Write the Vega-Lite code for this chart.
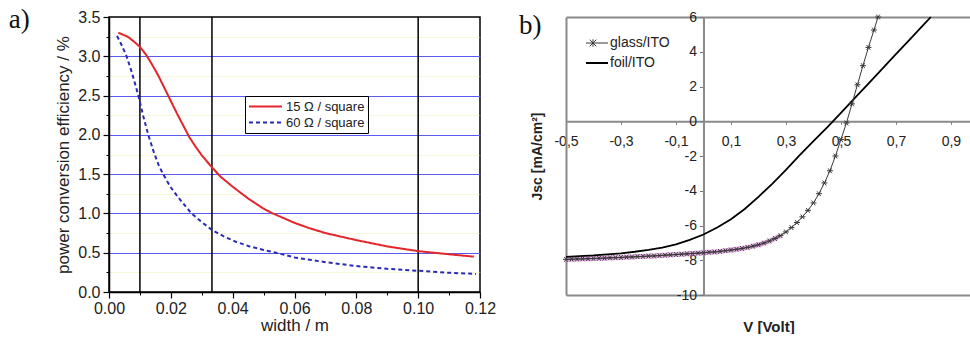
{
  "$schema": "https://vega.github.io/schema/vega-lite/v6.json",
  "background": "white",
  "padding": {"left": 8, "top": 5, "right": 0, "bottom": 0},
  "spacing": 21,
  "resolve": {"scale": {"color": "independent", "strokeDash": "independent"}, "legend": {"color": "independent", "strokeDash": "independent"}},
  "config": {
    "font": "Liberation Sans",
    "axis": {"labelFont": "Liberation Sans", "titleFont": "Liberation Sans", "labelColor": "#222", "titleColor": "#222"},
    "legend": {"labelFont": "Liberation Sans"}
  },
  "datasets": {
    "markers": [{"w": 0.01}, {"w": 0.0333}, {"w": 0.1}],
    "eff": [
      {"w": 0.003, "eff": 3.30, "sheet": "15 Ω / square"},
      {"w": 0.006, "eff": 3.25, "sheet": "15 Ω / square"},
      {"w": 0.008, "eff": 3.19, "sheet": "15 Ω / square"},
      {"w": 0.010, "eff": 3.12, "sheet": "15 Ω / square"},
      {"w": 0.012, "eff": 3.02, "sheet": "15 Ω / square"},
      {"w": 0.014, "eff": 2.89, "sheet": "15 Ω / square"},
      {"w": 0.016, "eff": 2.75, "sheet": "15 Ω / square"},
      {"w": 0.018, "eff": 2.59, "sheet": "15 Ω / square"},
      {"w": 0.020, "eff": 2.43, "sheet": "15 Ω / square"},
      {"w": 0.022, "eff": 2.27, "sheet": "15 Ω / square"},
      {"w": 0.024, "eff": 2.12, "sheet": "15 Ω / square"},
      {"w": 0.026, "eff": 1.97, "sheet": "15 Ω / square"},
      {"w": 0.028, "eff": 1.85, "sheet": "15 Ω / square"},
      {"w": 0.030, "eff": 1.74, "sheet": "15 Ω / square"},
      {"w": 0.033, "eff": 1.60, "sheet": "15 Ω / square"},
      {"w": 0.036, "eff": 1.47, "sheet": "15 Ω / square"},
      {"w": 0.040, "eff": 1.34, "sheet": "15 Ω / square"},
      {"w": 0.045, "eff": 1.19, "sheet": "15 Ω / square"},
      {"w": 0.050, "eff": 1.06, "sheet": "15 Ω / square"},
      {"w": 0.053, "eff": 1.00, "sheet": "15 Ω / square"},
      {"w": 0.060, "eff": 0.88, "sheet": "15 Ω / square"},
      {"w": 0.065, "eff": 0.81, "sheet": "15 Ω / square"},
      {"w": 0.070, "eff": 0.75, "sheet": "15 Ω / square"},
      {"w": 0.080, "eff": 0.66, "sheet": "15 Ω / square"},
      {"w": 0.090, "eff": 0.58, "sheet": "15 Ω / square"},
      {"w": 0.100, "eff": 0.52, "sheet": "15 Ω / square"},
      {"w": 0.110, "eff": 0.48, "sheet": "15 Ω / square"},
      {"w": 0.118, "eff": 0.45, "sheet": "15 Ω / square"},
      {"w": 0.0026, "eff": 3.26, "sheet": "60 Ω / square"},
      {"w": 0.004, "eff": 3.15, "sheet": "60 Ω / square"},
      {"w": 0.0057, "eff": 3.00, "sheet": "60 Ω / square"},
      {"w": 0.0075, "eff": 2.78, "sheet": "60 Ω / square"},
      {"w": 0.0095, "eff": 2.50, "sheet": "60 Ω / square"},
      {"w": 0.011, "eff": 2.25, "sheet": "60 Ω / square"},
      {"w": 0.0127, "eff": 2.00, "sheet": "60 Ω / square"},
      {"w": 0.0145, "eff": 1.78, "sheet": "60 Ω / square"},
      {"w": 0.016, "eff": 1.62, "sheet": "60 Ω / square"},
      {"w": 0.0175, "eff": 1.50, "sheet": "60 Ω / square"},
      {"w": 0.020, "eff": 1.33, "sheet": "60 Ω / square"},
      {"w": 0.0225, "eff": 1.20, "sheet": "60 Ω / square"},
      {"w": 0.025, "eff": 1.08, "sheet": "60 Ω / square"},
      {"w": 0.0267, "eff": 1.00, "sheet": "60 Ω / square"},
      {"w": 0.030, "eff": 0.89, "sheet": "60 Ω / square"},
      {"w": 0.0333, "eff": 0.79, "sheet": "60 Ω / square"},
      {"w": 0.037, "eff": 0.71, "sheet": "60 Ω / square"},
      {"w": 0.041, "eff": 0.64, "sheet": "60 Ω / square"},
      {"w": 0.0455, "eff": 0.58, "sheet": "60 Ω / square"},
      {"w": 0.050, "eff": 0.535, "sheet": "60 Ω / square"},
      {"w": 0.054, "eff": 0.50, "sheet": "60 Ω / square"},
      {"w": 0.060, "eff": 0.44, "sheet": "60 Ω / square"},
      {"w": 0.070, "eff": 0.38, "sheet": "60 Ω / square"},
      {"w": 0.080, "eff": 0.33, "sheet": "60 Ω / square"},
      {"w": 0.090, "eff": 0.295, "sheet": "60 Ω / square"},
      {"w": 0.100, "eff": 0.27, "sheet": "60 Ω / square"},
      {"w": 0.110, "eff": 0.245, "sheet": "60 Ω / square"},
      {"w": 0.1187, "eff": 0.23, "sheet": "60 Ω / square"}
    ],
    "glass": [
      {"V": -0.50, "J": -7.95, "series": "glass/ITO"},
      {"V": -0.48, "J": -7.94, "series": "glass/ITO"},
      {"V": -0.46, "J": -7.93, "series": "glass/ITO"},
      {"V": -0.44, "J": -7.92, "series": "glass/ITO"},
      {"V": -0.42, "J": -7.91, "series": "glass/ITO"},
      {"V": -0.40, "J": -7.90, "series": "glass/ITO"},
      {"V": -0.38, "J": -7.89, "series": "glass/ITO"},
      {"V": -0.36, "J": -7.88, "series": "glass/ITO"},
      {"V": -0.34, "J": -7.86, "series": "glass/ITO"},
      {"V": -0.32, "J": -7.85, "series": "glass/ITO"},
      {"V": -0.30, "J": -7.84, "series": "glass/ITO"},
      {"V": -0.28, "J": -7.82, "series": "glass/ITO"},
      {"V": -0.26, "J": -7.81, "series": "glass/ITO"},
      {"V": -0.24, "J": -7.79, "series": "glass/ITO"},
      {"V": -0.22, "J": -7.78, "series": "glass/ITO"},
      {"V": -0.20, "J": -7.76, "series": "glass/ITO"},
      {"V": -0.18, "J": -7.75, "series": "glass/ITO"},
      {"V": -0.16, "J": -7.73, "series": "glass/ITO"},
      {"V": -0.14, "J": -7.71, "series": "glass/ITO"},
      {"V": -0.12, "J": -7.69, "series": "glass/ITO"},
      {"V": -0.10, "J": -7.67, "series": "glass/ITO"},
      {"V": -0.08, "J": -7.65, "series": "glass/ITO"},
      {"V": -0.06, "J": -7.63, "series": "glass/ITO"},
      {"V": -0.04, "J": -7.61, "series": "glass/ITO"},
      {"V": -0.02, "J": -7.59, "series": "glass/ITO"},
      {"V": 0.00, "J": -7.57, "series": "glass/ITO"},
      {"V": 0.02, "J": -7.54, "series": "glass/ITO"},
      {"V": 0.04, "J": -7.52, "series": "glass/ITO"},
      {"V": 0.06, "J": -7.49, "series": "glass/ITO"},
      {"V": 0.08, "J": -7.45, "series": "glass/ITO"},
      {"V": 0.10, "J": -7.41, "series": "glass/ITO"},
      {"V": 0.12, "J": -7.37, "series": "glass/ITO"},
      {"V": 0.14, "J": -7.32, "series": "glass/ITO"},
      {"V": 0.16, "J": -7.26, "series": "glass/ITO"},
      {"V": 0.18, "J": -7.19, "series": "glass/ITO"},
      {"V": 0.20, "J": -7.11, "series": "glass/ITO"},
      {"V": 0.22, "J": -7.01, "series": "glass/ITO"},
      {"V": 0.24, "J": -6.89, "series": "glass/ITO"},
      {"V": 0.26, "J": -6.75, "series": "glass/ITO"},
      {"V": 0.28, "J": -6.58, "series": "glass/ITO"},
      {"V": 0.30, "J": -6.37, "series": "glass/ITO"},
      {"V": 0.32, "J": -6.12, "series": "glass/ITO"},
      {"V": 0.34, "J": -5.83, "series": "glass/ITO"},
      {"V": 0.36, "J": -5.50, "series": "glass/ITO"},
      {"V": 0.38, "J": -5.13, "series": "glass/ITO"},
      {"V": 0.40, "J": -4.70, "series": "glass/ITO"},
      {"V": 0.42, "J": -4.17, "series": "glass/ITO"},
      {"V": 0.44, "J": -3.55, "series": "glass/ITO"},
      {"V": 0.46, "J": -2.85, "series": "glass/ITO"},
      {"V": 0.48, "J": -2.00, "series": "glass/ITO"},
      {"V": 0.50, "J": -1.05, "series": "glass/ITO"},
      {"V": 0.52, "J": -0.10, "series": "glass/ITO"},
      {"V": 0.54, "J": 1.00, "series": "glass/ITO"},
      {"V": 0.56, "J": 2.10, "series": "glass/ITO"},
      {"V": 0.58, "J": 3.20, "series": "glass/ITO"},
      {"V": 0.60, "J": 4.25, "series": "glass/ITO"},
      {"V": 0.62, "J": 5.25, "series": "glass/ITO"},
      {"V": 0.635, "J": 6.00, "series": "glass/ITO"}
    ],
    "foil": [
      {"V": -0.50, "J": -7.80, "series": "foil/ITO"},
      {"V": -0.45, "J": -7.76, "series": "foil/ITO"},
      {"V": -0.40, "J": -7.72, "series": "foil/ITO"},
      {"V": -0.35, "J": -7.66, "series": "foil/ITO"},
      {"V": -0.30, "J": -7.60, "series": "foil/ITO"},
      {"V": -0.25, "J": -7.51, "series": "foil/ITO"},
      {"V": -0.20, "J": -7.40, "series": "foil/ITO"},
      {"V": -0.15, "J": -7.27, "series": "foil/ITO"},
      {"V": -0.10, "J": -7.08, "series": "foil/ITO"},
      {"V": -0.05, "J": -6.83, "series": "foil/ITO"},
      {"V": 0.00, "J": -6.52, "series": "foil/ITO"},
      {"V": 0.05, "J": -6.12, "series": "foil/ITO"},
      {"V": 0.10, "J": -5.64, "series": "foil/ITO"},
      {"V": 0.15, "J": -5.05, "series": "foil/ITO"},
      {"V": 0.20, "J": -4.35, "series": "foil/ITO"},
      {"V": 0.25, "J": -3.60, "series": "foil/ITO"},
      {"V": 0.30, "J": -2.80, "series": "foil/ITO"},
      {"V": 0.35, "J": -1.95, "series": "foil/ITO"},
      {"V": 0.40, "J": -1.15, "series": "foil/ITO"},
      {"V": 0.45, "J": -0.35, "series": "foil/ITO"},
      {"V": 0.50, "J": 0.48, "series": "foil/ITO"},
      {"V": 0.55, "J": 1.33, "series": "foil/ITO"},
      {"V": 0.60, "J": 2.17, "series": "foil/ITO"},
      {"V": 0.65, "J": 3.02, "series": "foil/ITO"},
      {"V": 0.70, "J": 3.86, "series": "foil/ITO"},
      {"V": 0.75, "J": 4.70, "series": "foil/ITO"},
      {"V": 0.80, "J": 5.55, "series": "foil/ITO"},
      {"V": 0.827, "J": 6.00, "series": "foil/ITO"}
    ]
  },
  "hconcat": [
    {
      "width": 371,
      "height": 275,
      "title": {"text": "a)", "orient": "left", "anchor": "end", "angle": 0, "align": "right", "baseline": "top", "fontSize": 27, "fontWeight": "normal", "font": "Liberation Serif", "color": "#111", "offset": 4, "dy": -2},
      "view": {"stroke": "#000", "strokeWidth": 1.5},
      "resolve": {"axis": {"x": "independent", "y": "independent"}},
      "layer": [
        {
          "data": {"name": "markers"},
          "mark": {"type": "rule", "color": "#000", "strokeWidth": 1.5},
          "encoding": {
            "x": {"field": "w", "type": "quantitative", "scale": {"domain": [0, 0.12], "nice": false, "zero": false},
              "axis": {"orient": "bottom", "values": [0.01, 0.03, 0.05, 0.07, 0.09, 0.11], "labels": false, "domain": false, "ticks": true, "tickSize": 3, "tickColor": "#000", "grid": false, "title": null}},
            "y": {"datum": 0, "type": "quantitative", "scale": {"domain": [0, 3.5], "nice": false},
              "axis": {"orient": "left", "values": [0.25, 0.75, 1.25, 1.75, 2.25, 2.75, 3.25], "labels": false, "domain": false, "ticks": true, "tickSize": 3, "tickColor": "#000", "grid": true, "gridColor": "#eee8a0", "gridOpacity": 0.4, "title": null}},
            "y2": {"datum": 3.5}
          }
        },
        {
          "data": {"name": "eff"},
          "mark": {"type": "line", "strokeWidth": 2},
          "encoding": {
            "x": {"field": "w", "type": "quantitative", "scale": {"domain": [0, 0.12], "nice": false, "zero": false},
              "axis": {"orient": "bottom", "values": [0, 0.02, 0.04, 0.06, 0.08, 0.1, 0.12], "format": ".2f", "labelFlush": false, "labelFontSize": 16, "labelPadding": 2, "tickSize": 6, "tickColor": "#000", "tickWidth": 1.2, "domainColor": "#000", "domainWidth": 1.5, "grid": false, "title": "width / m", "titleFontSize": 17, "titleFontWeight": "normal", "titlePadding": 1}},
            "y": {"field": "eff", "type": "quantitative", "scale": {"domain": [0, 3.5], "nice": false},
              "axis": {"orient": "left", "values": [0, 0.5, 1, 1.5, 2, 2.5, 3, 3.5], "format": ".1f", "labelFontSize": 16, "labelPadding": 3, "tickSize": 6, "tickColor": "#000", "tickWidth": 1.2, "domainColor": "#000", "domainWidth": 1.5, "grid": true, "gridColor": "#5a5af2", "gridWidth": 1.2, "gridOpacity": {"condition": {"test": "datum.value === 0 || datum.value === 3.5", "value": 0}, "value": 1}, "title": "power conversion efficiency / %", "titleFontSize": 17, "titleFontWeight": "normal", "titlePadding": 5}},
            "color": {"field": "sheet", "type": "nominal", "scale": {"domain": ["15 Ω / square", "60 Ω / square"], "range": ["#e3262b", "#2a2ab8"]},
              "legend": {"orient": "none", "legendX": 136, "legendY": 79, "title": null, "strokeColor": "#000", "fillColor": "white", "padding": 3, "labelFontSize": 13, "labelColor": "#222", "symbolType": "stroke", "symbolSize": 1089, "symbolStrokeWidth": 2, "clipHeight": 15, "rowPadding": 1, "labelOffset": 3}},
            "strokeDash": {"field": "sheet", "type": "nominal", "scale": {"domain": ["15 Ω / square", "60 Ω / square"], "range": [[1, 0], [4, 3]]},
              "legend": {"orient": "none", "legendX": 136, "legendY": 79, "title": null, "strokeColor": "#000", "fillColor": "white", "padding": 3, "labelFontSize": 13, "labelColor": "#222", "symbolType": "stroke", "symbolSize": 1089, "symbolStrokeWidth": 2, "clipHeight": 15, "rowPadding": 1, "labelOffset": 3}}
          }
        }
      ]
    },
    {
      "width": 405,
      "height": 278,
      "view": {"stroke": null},
      "resolve": {"axis": {"x": "independent", "y": "independent"}},
      "layer": [
        {
          "data": {"name": "glass"},
          "transform": [{"filter": "datum.V <= 0.28"}],
          "mark": {"type": "line", "color": "#d46ad4", "strokeWidth": 5, "opacity": 0.55},
          "encoding": {
            "x": {"field": "V", "type": "quantitative", "scale": {"domain": [-0.5, 0.973], "nice": false, "zero": false},
              "axis": {"orient": "top", "labels": false, "ticks": false, "grid": false, "domain": true, "domainColor": "#8a8a8a", "domainWidth": 2, "title": null}},
            "y": {"field": "J", "type": "quantitative", "scale": {"domain": [-10, 6], "nice": false},
              "axis": {"orient": "left", "labels": false, "ticks": false, "grid": false, "domain": true, "domainColor": "#8a8a8a", "domainWidth": 2, "title": "Jsc [mA/cm²]", "titleFontSize": 14, "titleFontWeight": "bold", "titlePadding": 22}}
          }
        },
        {
          "data": {"name": "foil"},
          "mark": {"type": "line", "strokeWidth": 1.8},
          "encoding": {
            "x": {"field": "V", "type": "quantitative", "scale": {"domain": [-0.5, 0.973], "nice": false, "zero": false},
              "axis": {"orient": "bottom", "offset": -173.75, "values": [-0.5, -0.3, -0.1, 0.1, 0.3, 0.5, 0.7, 0.9], "labelExpr": "replace(toString(datum.value), '.', ',')", "labelFlush": false, "labelOverlap": false, "labelFontSize": 14, "labelPadding": 10, "tickSize": 3, "tickColor": "#777", "domainColor": "#8a8a8a", "domainWidth": 2, "grid": false, "title": null}},
            "y": {"field": "J", "type": "quantitative", "scale": {"domain": [-10, 6], "nice": false},
              "axis": {"orient": "left", "offset": -137.47, "values": [-10, -8, -6, -4, -2, 0, 2, 4, 6], "labelExpr": "toString(datum.value)", "labelOverlap": false, "labelFontSize": 14, "labelPadding": 3, "tickSize": 4, "tickColor": "#777", "domainColor": "#8a8a8a", "domainWidth": 2, "grid": false, "title": null}},
            "color": {"field": "series", "type": "nominal", "scale": {"domain": ["glass/ITO", "foil/ITO"], "range": ["#3a3a3a", "#000000"]},
              "legend": {"orient": "none", "legendX": 20, "legendY": 18, "title": null, "labelFontSize": 14, "labelColor": "#222", "symbolType": "M-1,0H1", "symbolSize": 900, "symbolStrokeWidth": 1.5, "clipHeight": 16, "rowPadding": 4, "labelOffset": 10, "padding": 0,
                "encode": {"symbols": {"update": {"shape": {"signal": "datum.value === 'glass/ITO' ? 'M-1,0H1M-0.22,-0.22L0.22,0.22M-0.22,0.22L0.22,-0.22M0,-0.25V0.25' : 'M-1,0H1'"}, "strokeWidth": {"signal": "datum.value === 'glass/ITO' ? 1 : 2"}}}}}}
          }
        },
        {
          "data": {"name": "glass"},
          "mark": {"type": "line", "strokeWidth": 1},
          "encoding": {
            "x": {"field": "V", "type": "quantitative", "scale": {"domain": [-0.5, 0.973], "nice": false, "zero": false},
              "axis": {"orient": "bottom", "labels": false, "ticks": false, "grid": false, "domain": true, "domainColor": "#8a8a8a", "domainWidth": 2, "title": "V [Volt]", "titleFontSize": 15, "titleFontWeight": "bold", "titlePadding": 24}},
            "y": {"field": "J", "type": "quantitative", "scale": {"domain": [-10, 6], "nice": false}, "axis": null},
            "color": {"field": "series", "type": "nominal", "scale": {"domain": ["glass/ITO", "foil/ITO"], "range": ["#3a3a3a", "#000000"]},
              "legend": {"orient": "none", "legendX": 20, "legendY": 18, "title": null, "labelFontSize": 14, "labelColor": "#222", "symbolType": "M-1,0H1", "symbolSize": 900, "symbolStrokeWidth": 1.5, "clipHeight": 16, "rowPadding": 4, "labelOffset": 10, "padding": 0,
                "encode": {"symbols": {"update": {"shape": {"signal": "datum.value === 'glass/ITO' ? 'M-1,0H1M-0.22,-0.22L0.22,0.22M-0.22,0.22L0.22,-0.22M0,-0.25V0.25' : 'M-1,0H1'"}, "strokeWidth": {"signal": "datum.value === 'glass/ITO' ? 1 : 2"}}}}}}
          }
        },
        {
          "data": {"name": "glass"},
          "mark": {"type": "point", "shape": "M-1,0H1M-0.6,-0.8L0.6,0.8M-0.6,0.8L0.6,-0.8", "filled": false, "size": 36, "strokeWidth": 1, "color": "#3a3a3a", "opacity": 1},
          "encoding": {
            "x": {"field": "V", "type": "quantitative", "scale": {"domain": [-0.5, 0.973], "nice": false, "zero": false}, "axis": null},
            "y": {"field": "J", "type": "quantitative", "scale": {"domain": [-10, 6], "nice": false},
              "axis": {"orient": "left", "labels": false, "ticks": false, "grid": false, "domain": false, "title": "b)", "titleAngle": 0, "titleX": -25, "titleY": -5, "titleAlign": "right", "titleBaseline": "top", "titleFont": "Liberation Serif", "titleFontSize": 27, "titleFontWeight": "normal", "titleColor": "#111"}}
          }
        }
      ]
    }
  ]
}
